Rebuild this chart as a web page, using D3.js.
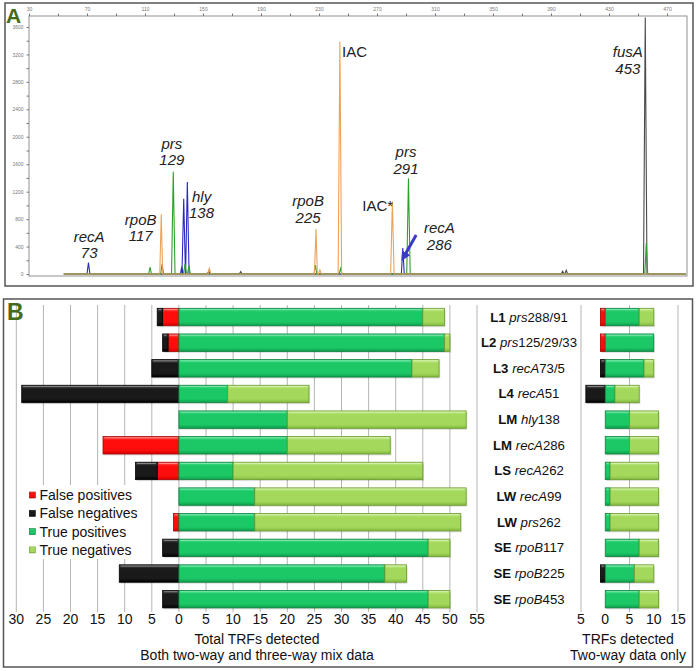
<!DOCTYPE html>
<html><head><meta charset="utf-8">
<script src="https://cdn.jsdelivr.net/npm/d3@7"></script>
<style>body{margin:0;background:#fff} svg{display:block;font-family:"Liberation Sans",Arial,Helvetica,sans-serif}</style>
</head><body><svg id="c" width="698" height="671"></svg>
<script>
// ---------- Panel A data ----------
const bpTicks = [30,70,110,150,190,230,270,310,350,390,430,470];
const rfuTicks = [0,400,800,1200,1600,2000,2400,2800,3200,3600];
const blackPeaks  = [[154,45],[176,35],[398,40],[400.5,55],[455,3740]];
const greenPeaks  = [[113.5,100],[121.8,150],[129.5,1490],[137.6,150],[140.3,120],[227.5,130],[244.9,80],[291.7,1395],[455.7,450]];
const orangePeaks = [[121.2,870],[154.4,80],[227.9,655],[230.6,60],[244.4,3390],[280.6,1055]];
const bluePeaks   = [[71,165],[135.4,110],[136.7,1095],[139.2,1340],[287.8,380]];
// peak labels: [bp, rfu, line1, line2]
const peakLabels = [
  [71.5, 470, "recA", "73"],
  [107, 720, "rpoB", "117"],
  [128.5, 1825, "prs", "129"],
  [149, 1055, "hly", "138"],
  [222.5, 990, "rpoB", "225"],
  [290, 1705, "prs", "291"],
  [313, 595, "recA", "286"],
  [443, 3160, "fusA", "453"]
];
const plainLabels = [[254.5, 3160, "IAC"], [270.5, 925, "IAC*"]];
const arrowPts = [[297, 568], [288.5, 250]];

// ---------- Panel B data ----------
const rowPrefix = ["L1","L2","L3","L4","LM","LM","LS","LW","LW","SE","SE","SE"];
const rowGene   = ["prs","prs","recA","recA","hly","recA","recA","recA","prs","rpoB","rpoB","rpoB"];
const rowNum    = ["288/91","125/29/33","73/5","51","138","286","262","99","262","117","225","453"];
// Both two-way and three-way mix data
const fp3 = [3,2,0,0,0,14,4,0,1,0,0,0];
const fn3 = [1,1,5,29,0,0,4,0,0,3,11,3];
const tp3 = [45,49,43,9,20,20,10,14,14,46,38,46];
const tn3 = [4,1,5,15,33,19,35,39,38,4,4,4];
// Two-way data only
const fp2 = [1,1,0,0,0,0,0,0,0,0,0,0];
const fn2 = [0,0,1,4,0,0,0,0,0,0,1,0];
const tp2 = [7,10,8,2,5,5,1,1,1,7,6,7];
const tn2 = [3,0,2,5,6,6,10,10,10,4,4,4];
const ticks3 = [-30,-25,-20,-15,-10,-5,0,5,10,15,20,25,30,35,40,45,50,55];
const ticks2 = [-5,0,5,10,15];
const grid2 = [-5,5,15];
const legendItems = ["False positives","False negatives","True positives","True negatives"];
const legendKeys = ["fp","fn","tp","tn"];

const svg = d3.select("#c");
const FONT = '"Liberation Sans",Arial,sans-serif';

// ---------- gradients ----------
const defs = svg.append("defs");
const pal = {
  fp: {top:"#ff5a5a", mid:"#ff0d0d", bot:"#d40000", stroke:"#a80000"},
  fn: {top:"#555555", mid:"#1a1a1a", bot:"#000000", stroke:"#000000"},
  tp: {top:"#45e08a", mid:"#1cc766", bot:"#0e9e4c", stroke:"#0b7f3c"},
  tn: {top:"#c8ee8e", mid:"#a3d85c", bot:"#82b83e", stroke:"#6a9a2e"}
};
Object.entries(pal).forEach(([k,c]) => {
  const lg = defs.append("linearGradient").attr("id","g_"+k).attr("x1",0).attr("y1",0).attr("x2",0).attr("y2",1);
  lg.append("stop").attr("offset","0%").attr("stop-color",c.top);
  lg.append("stop").attr("offset","22%").attr("stop-color",c.mid);
  lg.append("stop").attr("offset","78%").attr("stop-color",c.mid);
  lg.append("stop").attr("offset","100%").attr("stop-color",c.bot);
});
defs.append("marker").attr("id","arrow").attr("viewBox","0 0 10 10").attr("refX",5).attr("refY",5)
  .attr("markerWidth",3.2).attr("markerHeight",3.2).attr("orient","auto")
  .append("path").attr("d","M0,0 L10,5 L0,10 z").attr("fill","#3a3ac8");

// ---------- Panel A ----------
svg.append("rect").attr("x",5).attr("y",3).attr("width",688).attr("height",283)
  .attr("fill","#fff").attr("stroke","#555").attr("stroke-width",1.5);

const xA = d3.scaleLinear().domain([30,470]).range([29,667]);
const yA = d3.scaleLinear().domain([0,3600]).range([274,27]);
const gA = svg.append("g");
gA.append("rect").attr("x",29).attr("y",16).attr("width",658).attr("height",260)
  .attr("fill","none").attr("stroke","#777").attr("stroke-width",0.8);
const topAx = d3.axisTop(xA).tickValues(d3.range(30,490,20)).tickSize(2.5)
  .tickFormat(d => bpTicks.includes(d) ? d : "");
gA.append("g").attr("transform","translate(0,16)").call(topAx)
  .call(g => { g.select(".domain").remove();
    g.selectAll("text").attr("font-size",5).attr("fill","#777").attr("font-family",FONT);
    g.selectAll("line").attr("stroke","#777"); });
const leftAx = d3.axisLeft(yA).tickValues(d3.range(0,3800,200)).tickSize(2.5)
  .tickFormat(d => rfuTicks.includes(d) ? d : "");
gA.append("g").attr("transform","translate(29,0)").call(leftAx)
  .call(g => { g.select(".domain").remove();
    g.selectAll("text").attr("font-size",5).attr("fill","#777").attr("font-family",FONT);
    g.selectAll("line").attr("stroke","#777"); });
svg.append("text").attr("x",6).attr("y",23).text("A")
  .attr("font-size",21).attr("font-weight","bold").attr("fill","#456b1c");

function tracePts(peaks){
  const pts = [[54,0]];
  peaks.slice().sort((a,b)=>a[0]-b[0]).forEach(([bp,h]) => {
    const w = h > 1000 ? 1.2 : 1.0;
    pts.push([bp-w,0],[bp,h],[bp+w,0]);
  });
  pts.push([483,0]);
  return pts;
}
const line = d3.line().x(d=>xA(d[0])).y(d=>yA(d[1]));
[[bluePeaks,"#2a2ac0"],[blackPeaks,"#4a4a4a"],[greenPeaks,"#2ea02e"],[orangePeaks,"#eba35a"]].forEach(([p,c]) => {
  gA.append("path").attr("d",line(tracePts(p))).attr("fill","none").attr("stroke",c).attr("stroke-width",1.1);
});
peakLabels.forEach(([bp,r,l1,l2]) => {
  const t = gA.append("text").attr("font-size",15).attr("fill","#222").attr("text-anchor","middle")
    .attr("font-style","italic");
  t.append("tspan").attr("x",xA(bp)).attr("y",yA(r)).text(l1);
  t.append("tspan").attr("x",xA(bp)).attr("dy",16.5).text(l2);
});
plainLabels.forEach(([bp,r,l]) => {
  gA.append("text").attr("x",xA(bp)).attr("y",yA(r)).attr("text-anchor","middle")
    .attr("font-size",15).attr("fill","#222").text(l);
});
gA.append("line").attr("x1",xA(arrowPts[0][0])).attr("y1",yA(arrowPts[0][1]))
  .attr("x2",xA(arrowPts[1][0])).attr("y2",yA(arrowPts[1][1]))
  .attr("stroke","#3a3ac8").attr("stroke-width",3).attr("marker-end","url(#arrow)");

// ---------- Panel B ----------
svg.append("rect").attr("x",3.5).attr("y",299).attr("width",689).attr("height",368)
  .attr("fill","#fff").attr("stroke","#555").attr("stroke-width",1.5);

const rowIds = rowPrefix.map((p,i)=>i);
const yB = d3.scaleBand().domain(rowIds).range([304.2,612]).paddingInner(0.32).paddingOuter(0.16);
const x3 = d3.scaleLinear().domain([-30,55]).range([16.3,477]);
const x2 = d3.scaleLinear().domain([-5,15]).range([581,678]);

const gB = svg.append("g");
gB.selectAll(".g3").data(ticks3).join("line").attr("x1",d=>x3(d)).attr("x2",d=>x3(d))
  .attr("y1",305).attr("y2",612).attr("stroke","#b5b5b5").attr("stroke-width",1);
gB.selectAll(".g2").data(grid2).join("line").attr("x1",d=>x2(d)).attr("x2",d=>x2(d))
  .attr("y1",305).attr("y2",612).attr("stroke","#b5b5b5").attr("stroke-width",1);

svg.append("text").attr("x",7).attr("y",320).text("B")
  .attr("font-size",23).attr("font-weight","bold").attr("fill","#456b1c");

function segments(fp,fn,tp,tn){
  const s = [];
  rowIds.forEach(i => {
    if (fp[i]) s.push({i, a:-fp[i], b:0, k:"fp"});
    if (fn[i]) s.push({i, a:-(fp[i]+fn[i]), b:-fp[i], k:"fn"});
    if (tp[i]) s.push({i, a:0, b:tp[i], k:"tp"});
    if (tn[i]) s.push({i, a:tp[i], b:tp[i]+tn[i], k:"tn"});
  });
  return s;
}
function drawBars(segs, x){
  const g = gB.append("g");
  g.selectAll("rect.sh").data(segs).join("rect")
    .attr("x",d=>x(d.a)+1.2).attr("y",d=>yB(d.i)+1.5).attr("width",d=>x(d.b)-x(d.a)).attr("height",yB.bandwidth())
    .attr("fill","#000").attr("opacity",0.12);
  g.selectAll("rect.bar").data(segs).join("rect")
    .attr("x",d=>x(d.a)).attr("y",d=>yB(d.i)).attr("width",d=>x(d.b)-x(d.a)).attr("height",yB.bandwidth())
    .attr("fill",d=>"url(#g_"+d.k+")").attr("stroke",d=>pal[d.k].stroke).attr("stroke-width",0.8);
  g.selectAll("line.hl").data(segs).join("line")
    .attr("x1",d=>x(d.a)+1.5).attr("x2",d=>x(d.b)-1.5).attr("y1",d=>yB(d.i)+1.3).attr("y2",d=>yB(d.i)+1.3)
    .attr("stroke","#fff").attr("stroke-opacity",0.35).attr("stroke-width",1);
}
drawBars(segments(fp3,fn3,tp3,tn3), x3);
drawBars(segments(fp2,fn2,tp2,tn2), x2);

rowIds.forEach(i => {
  const t = gB.append("text").attr("x",529).attr("y",yB(i)+yB.bandwidth()/2+4.5)
    .attr("text-anchor","middle").attr("font-size",13.2).attr("fill","#111");
  t.append("tspan").attr("font-weight","bold").text(rowPrefix[i]+" ");
  t.append("tspan").attr("font-style","italic").text(rowGene[i]);
  t.append("tspan").text(rowNum[i]);
});

gB.selectAll(".t3").data(ticks3).join("text").attr("x",d=>x3(d)).attr("y",624)
  .attr("text-anchor","middle").attr("font-size",14).attr("fill","#111").text(d=>Math.abs(d));
gB.selectAll(".t2").data(ticks2).join("text").attr("x",d=>x2(d)).attr("y",624)
  .attr("text-anchor","middle").attr("font-size",14).attr("fill","#111").text(d=>Math.abs(d));
[["Total TRFs detected",644],["Both two-way and three-way mix data",660]].forEach(([s,y]) =>
  gB.append("text").attr("x",257).attr("y",y).attr("text-anchor","middle").attr("font-size",14).attr("fill","#111").text(s));
[["TRFs detected",644],["Two-way data only",660]].forEach(([s,y]) =>
  gB.append("text").attr("x",628).attr("y",y).attr("text-anchor","middle").attr("font-size",14).attr("fill","#111").text(s));

const lg = gB.append("g");
lg.append("rect").attr("x",26).attr("y",485).attr("width",113).attr("height",74).attr("fill","#fff");
legendItems.forEach((s,j) => {
  const y = 495 + j*18.3;
  lg.append("rect").attr("x",29.3).attr("y",y-3).attr("width",6).attr("height",6)
    .attr("fill","url(#g_"+legendKeys[j]+")").attr("stroke",pal[legendKeys[j]].stroke).attr("stroke-width",0.6);
  lg.append("text").attr("x",39.5).attr("y",y+5).attr("font-size",14).attr("fill","#111").text(s);
});
</script></body></html>
